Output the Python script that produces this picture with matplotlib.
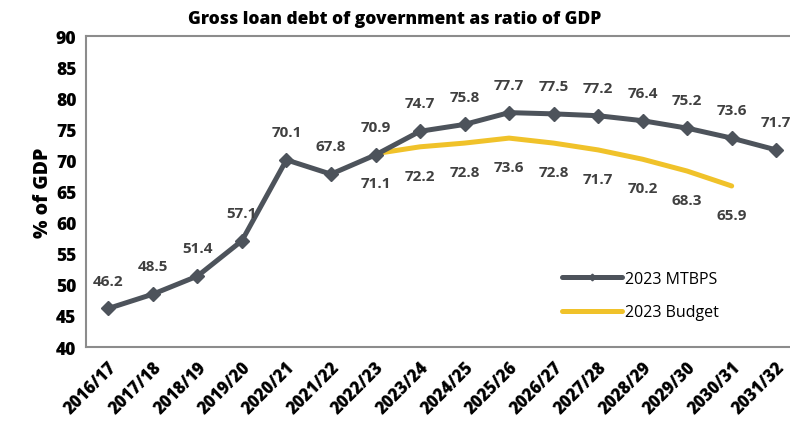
import matplotlib.pyplot as plt
import numpy as np

plt.rcParams['font.family'] = ['Open Sans', 'DejaVu Sans']

years = ["2016/17", "2017/18", "2018/19", "2019/20", "2020/21", "2021/22",
         "2022/23", "2023/24", "2024/25", "2025/26", "2026/27", "2027/28",
         "2028/29", "2029/30", "2030/31", "2031/32"]
mtbps = [46.2, 48.5, 51.4, 57.1, 70.1, 67.8, 70.9, 74.7, 75.8, 77.7, 77.5,
         77.2, 76.4, 75.2, 73.6, 71.7]
budget_years = years[6:15]
budget = [71.1, 72.2, 72.8, 73.6, 72.8, 71.7, 70.2, 68.3, 65.9]

grey = "#4d535b"
yellow = "#f0c22a"
label_col = "#404040"
heavy = 800

fig = plt.figure(figsize=(7.9, 4.27), dpi=100)
ax = fig.add_axes([0.109, 0.185, 0.891, 0.728])

x = np.arange(len(years))
xb = np.array([years.index(y) for y in budget_years])

ax.plot(x, mtbps, color=grey, lw=3.6, marker="D", ms=7.5,
        solid_joinstyle="round", solid_capstyle="round", label="2023 MTBPS", zorder=3)
ax.plot(xb, budget, color=yellow, lw=3.6, solid_capstyle="round",
        label="2023 Budget", zorder=2)

for xi, v in zip(x, mtbps):
    ax.annotate(f"{v:.1f}", (xi, v), xytext=(0, 20), textcoords="offset points",
                ha="center", va="center", fontsize=11, fontweight="bold", color=label_col)
for xi, v in zip(xb, budget):
    ax.annotate(f"{v:.1f}", (xi, v), xytext=(0, -21), textcoords="offset points",
                ha="center", va="center", fontsize=11, fontweight="bold", color=label_col)

ax.set_ylim(40, 90)
ax.set_yticks(range(40, 95, 5))
ax.set_xlim(-0.5, 15.31)
ax.set_xticks(x)
ax.set_xticklabels(years, rotation=45, ha="right", rotation_mode="anchor",
                   fontsize=12, fontweight=heavy)
for t in ax.get_yticklabels():
    t.set_fontsize(12.5)
    t.set_fontweight(heavy)
ax.tick_params(length=0, pad=7)
ax.tick_params(axis="x", pad=8)

for s in ["left", "top", "bottom"]:
    ax.spines[s].set_color("#8c8c8c")
    ax.spines[s].set_linewidth(1.5)
ax.spines["right"].set_visible(False)

ax.set_ylabel("% of GDP", fontsize=14, fontweight=heavy, labelpad=2)
fig.text(0.5, 0.955, "Gross loan debt of government as ratio of GDP",
         ha="center", va="center", fontsize=12.5, fontweight=heavy)

leg = ax.legend(loc="lower right", bbox_to_anchor=(0.92, 0.04), frameon=False,
                fontsize=11.5, handlelength=3.8, labelspacing=1.1, handletextpad=0.2,
                markerscale=0.45)

fig.savefig("out.png", dpi=100)
